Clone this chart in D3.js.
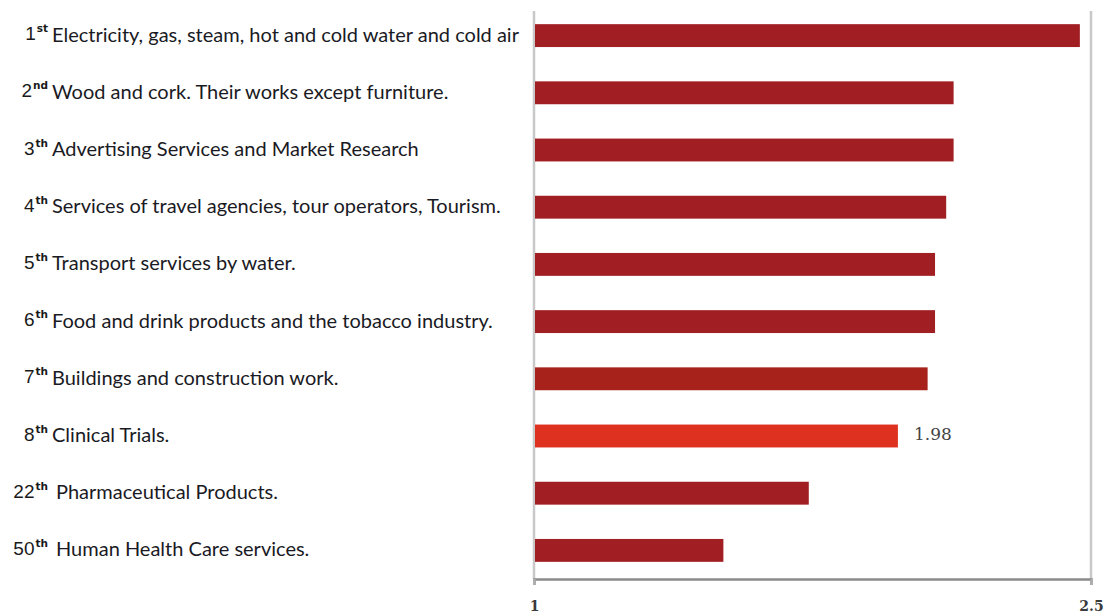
<!DOCTYPE html>
<html>
<head>
<meta charset="utf-8">
<script src="https://cdn.jsdelivr.net/npm/d3@7"></script>
<style>
  html, body { margin: 0; padding: 0; background: #fff; }
  svg { display: block; }
</style>
</head>
<body>
<svg id="chart" width="1109" height="616"></svg>
<script>
// Sector ranking: rank number, ordinal suffix, sector name and index value
const ranks = ["1", "2", "3", "4", "5", "6", "7", "8", "22", "50"];
const suffixes = ["st", "nd", "th", "th", "th", "th", "th", "th", "th", "th"];
const sectors = [
  "Electricity, gas, steam, hot and cold water and cold air",
  "Wood and cork. Their works except furniture.",
  "Advertising Services and Market Research",
  "Services of travel agencies, tour operators, Tourism.",
  "Transport services by water.",
  "Food and drink products and the tobacco industry.",
  "Buildings and construction work.",
  "Clinical Trials.",
  "Pharmaceutical Products.",
  "Human Health Care services."
];
const values = [2.47, 2.13, 2.13, 2.11, 2.08, 2.08, 2.06, 1.98, 1.74, 1.51];
const highlighted = "Clinical Trials.";
const xTicks = [1, 2.5];

const svg = d3.select("#chart");

const x = d3.scaleLinear().domain([1, 2.5]).range([534, 1091]);
const y = d3.scaleBand().domain(sectors).range([7, 579])
  .paddingInner(0.6).paddingOuter(0.3);

const plotTop = 11, plotBottom = 579;

// vertical grid lines at each tick value
svg.append("g")
  .selectAll("line")
  .data(xTicks)
  .join("line")
  .attr("x1", d => x(d)).attr("x2", d => x(d))
  .attr("y1", plotTop).attr("y2", plotBottom)
  .attr("stroke", "#c8c8c8")
  .attr("stroke-width", 2.5);

// bars
const barColor = (d, i) => d === highlighted ? "#de311f" : (i === 6 ? "#a6221a" : "#a11f22");
svg.append("g")
  .selectAll("rect")
  .data(sectors)
  .join("rect")
  .attr("x", x(1) + 1)
  .attr("y", d => y(d))
  .attr("width", (d, i) => x(values[i]) - x(1) - 1)
  .attr("height", y.bandwidth())
  .attr("fill", barColor);

// bottom axis
const xAxis = d3.axisBottom(x).tickValues(xTicks).tickSize(6).tickPadding(16)
  .tickFormat(d3.format("~g"));
const gx = svg.append("g")
  .attr("transform", `translate(0,${plotBottom})`)
  .call(xAxis);
gx.select(".domain").attr("stroke", "#8a8a8a").attr("stroke-width", 2.5);
gx.selectAll(".tick line").attr("stroke", "#b0b0b0").attr("stroke-width", 2);
gx.selectAll(".tick text")
  .attr("font-family", "'DejaVu Serif', 'Liberation Serif', serif")
  .attr("font-size", 14)
  .attr("font-weight", "bold")
  .attr("fill", "#3a3a3a");

// value label on the highlighted bar
const hi = sectors.indexOf(highlighted);
svg.append("text")
  .attr("x", x(values[hi]) + 16)
  .attr("y", y(highlighted) + y.bandwidth() / 2 - 2)
  .attr("dy", "0.35em")
  .attr("font-family", "'DejaVu Serif', 'Liberation Serif', serif")
  .attr("font-size", 17)
  .attr("fill", "#444")
  .text(values[hi].toFixed(2));

// category labels: rank with superscript suffix, then sector name
const labels = svg.append("g")
  .selectAll("g")
  .data(sectors)
  .join("g")
  .attr("transform", d => `translate(0,${y(d) + y.bandwidth() / 2 - 1})`);

const rankText = labels.append("text")
  .attr("x", 48)
  .attr("dy", "0.35em")
  .attr("text-anchor", "end")
  .attr("fill", "#1a1a1a");
rankText.append("tspan")
  .attr("font-family", "'Liberation Sans', Arial, sans-serif")
  .attr("font-size", 19)
  .text((d, i) => ranks[i]);
rankText.append("tspan")
  .attr("font-family", "'DejaVu Sans', sans-serif")
  .attr("font-size", 10.5)
  .attr("font-weight", "bold")
  .attr("dx", 1)
  .attr("dy", -8)
  .text((d, i) => suffixes[i]);

labels.append("text")
  .attr("x", (d, i) => +ranks[i] >= 10 ? 56 : 52)
  .attr("dy", "0.35em")
  .attr("font-family", "Lato, 'Open Sans', sans-serif")
  .attr("font-size", 20)
  .attr("fill", "#1a1a24")
  .text(d => d);
</script>
</body>
</html>
